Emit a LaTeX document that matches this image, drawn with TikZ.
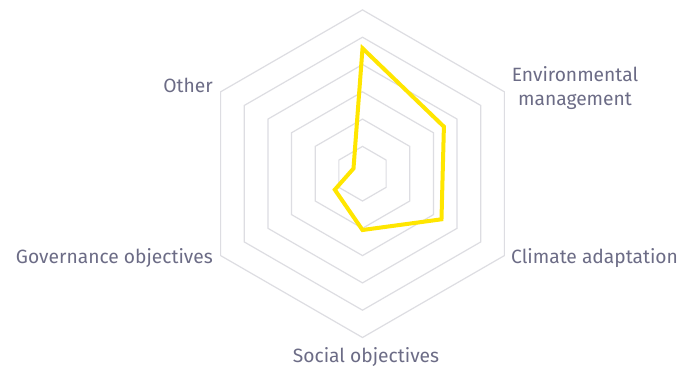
\documentclass[tikz,border=0pt]{standalone}
\usepackage{fontspec}
\setmainfont{Fira Sans}
\definecolor{gridgray}{RGB}{221,221,226}
\definecolor{labelgray}{RGB}{108,108,134}
\definecolor{dataYellow}{RGB}{255,230,0}
\begin{document}
\begin{tikzpicture}[x=1bp,y=1bp,
  ring/.style={draw=gridgray,line width=1.2bp,line join=miter},
  series/.style={draw=dataYellow,line width=4bp,line join=miter},
  lbl/.style={text=labelgray,inner sep=0pt,font=\fontsize{19.3}{24}\selectfont}]
\useasboundingbox (0,0) rectangle (682,367);
\fill[white] (0,0) rectangle (682,367);
\begin{scope}[shift={(362.5,193.3)}]
  \foreach \k in {1,...,6}{
    \pgfmathsetmacro{\r}{27.3*\k}
    \draw[ring] (90:\r) -- (30:\r) -- (-30:\r) -- (-90:\r) -- (-150:\r) -- (150:\r) -- cycle;
  }
  \coordinate (pTop) at (90:125.4);
  \coordinate (pEnv) at (30:94);
  \coordinate (pCli) at (-30:91.2);
  \coordinate (pSoc) at (-90:56.3);
  \coordinate (pGov) at (-150:32);
  \coordinate (pOth) at (150:10.4);
  \draw[series] (pTop) -- (pEnv) -- (pCli) -- (pSoc) -- (pGov) -- (pOth) -- cycle;
\end{scope}
\node[lbl,anchor=base,align=center] (env) at (575,262) {Environmental\\management};
\node[lbl,anchor=base west] (cli) at (511,104) {Climate adaptation};
\node[lbl,anchor=base] (soc) at (366,5) {Social objectives};
\node[lbl,anchor=base east] (gov) at (213,104) {Governance objectives};
\node[lbl,anchor=base east] (oth) at (213,275) {Other};
\end{tikzpicture}
\end{document}
